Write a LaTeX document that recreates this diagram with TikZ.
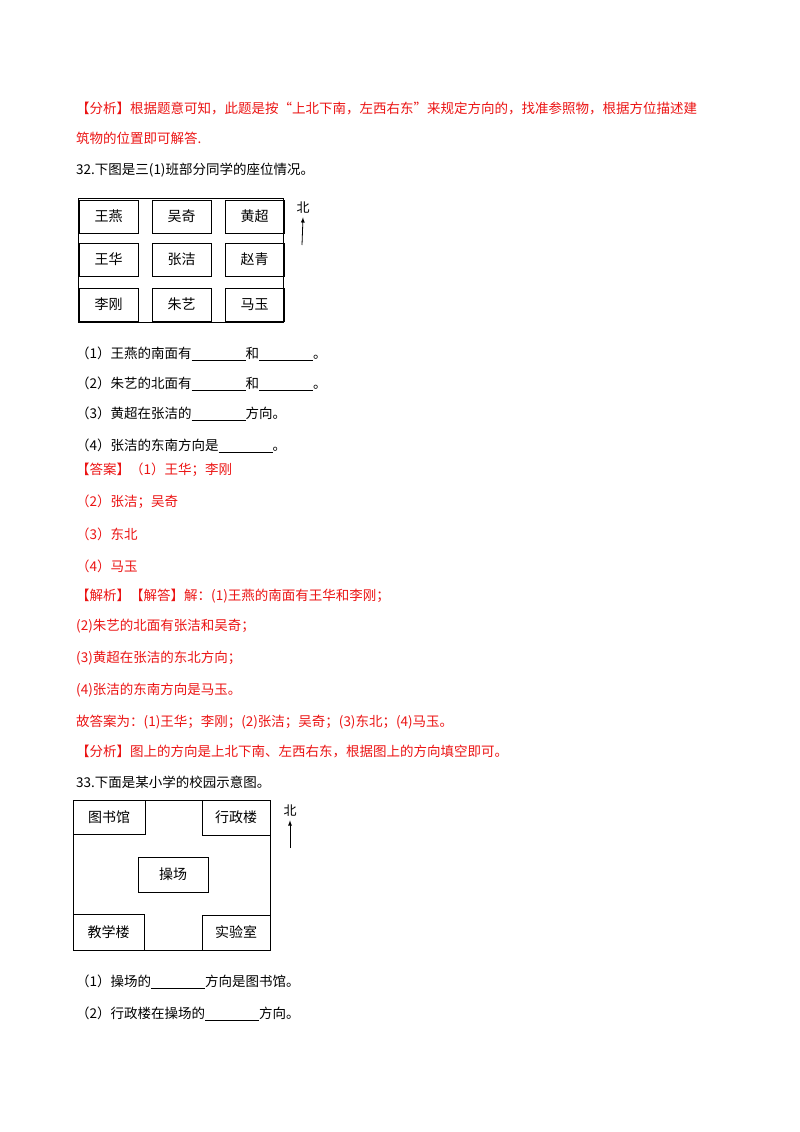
\documentclass[tikz,border=0pt]{standalone}
\usepackage{fontspec}
\setmainfont{Noto Sans CJK SC}
\definecolor{ans}{RGB}{235,20,20}
\begin{document}
\begin{tikzpicture}[x=1pt,y=-1pt,
  tl/.style={anchor=west,inner sep=0pt,font=\fontsize{13.5}{16}\selectfont},
  rd/.style={tl,text=ans},
  cell/.style={draw,line width=0.8pt,font=\fontsize{14}{16}\selectfont},
  lab/.style={font=\fontsize{13}{15}\selectfont}]
\useasboundingbox (0,0) rectangle (800,1132);
\node[rd] (l1) at (76,108) {【分析】根据题意可知，此题是按“上北下南，左西右东”来规定方向的，找准参照物，根据方位描述建};
\node[rd] (l2) at (76,138) {筑物的位置即可解答.};
\node[tl] (l3) at (76,170) {32.下图是三(1)班部分同学的座位情况。};
% figure 1
\draw[line width=0.9pt] (78,198) rectangle (283,322);
\foreach \x/\r/\t [count=\i] in {79/200/王燕,152/200/吴奇,225/200/黄超,79/243/王华,152/243/张洁,225/243/赵青,79/288/李刚,152/288/朱艺,225/288/马玉}{
  \draw[cell] (\x,\r) rectangle ++(59,33) node[midway,draw=none] (c\i) {\t};}
\node[lab] (n1) at (303,208) {北};
\draw[-latex,line width=0.8pt] (302,245) -- (n1.south);
\node[tl] (q1) at (76,354) {（1）王燕的南面有\underline{\hspace{4em}}和\underline{\hspace{4em}}。};
\node[tl] (q2) at (76,384) {（2）朱艺的北面有\underline{\hspace{4em}}和\underline{\hspace{4em}}。};
\node[tl] (q3) at (76,414) {（3）黄超在张洁的\underline{\hspace{4em}}方向。};
\node[tl] (q4) at (76,446) {（4）张洁的东南方向是\underline{\hspace{4em}}。};
\node[rd] (a0) at (76,470) {【答案】（1）王华；李刚};
\node[rd] (a2) at (76,502) {（2）张洁；吴奇};
\node[rd] (a3) at (76,534) {（3）东北};
\node[rd] (a4) at (76,566) {（4）马玉};
\node[rd] (j1) at (76,596) {【解析】【解答】解：(1)王燕的南面有王华和李刚；};
\node[rd] (j2) at (76,626) {(2)朱艺的北面有张洁和吴奇；};
\node[rd] (j3) at (76,658) {(3)黄超在张洁的东北方向；};
\node[rd] (j4) at (76,690) {(4)张洁的东南方向是马玉。};
\node[rd] (j5) at (76,722) {故答案为：(1)王华；李刚；(2)张洁；吴奇；(3)东北；(4)马玉。};
\node[rd] (j6) at (76,752) {【分析】图上的方向是上北下南、左西右东，根据图上的方向填空即可。};
\node[tl] (l33) at (76,782) {33.下面是某小学的校园示意图。};
% figure 2
\draw[line width=0.9pt] (73,800) rectangle (270,950);
\draw[cell] (73,800) rectangle (145,834) node[midway,draw=none] (b1) {图书馆};
\draw[cell] (202,800) rectangle (270,835) node[midway,draw=none] (b2) {行政楼};
\draw[cell] (138,857) rectangle (208,892) node[midway,draw=none] (b3) {操场};
\draw[cell] (73,914) rectangle (144,950) node[midway,draw=none] (b4) {教学楼};
\draw[cell] (202,915) rectangle (270,950) node[midway,draw=none] (b5) {实验室};
\node[lab] (n2) at (290,811) {北};
\draw[-latex,line width=0.8pt] (290,848) -- (n2.south);
\node[tl] (p1) at (76,982) {（1）操场的\underline{\hspace{4em}}方向是图书馆。};
\node[tl] (p2) at (76,1014) {（2）行政楼在操场的\underline{\hspace{4em}}方向。};
\end{tikzpicture}
\end{document}
